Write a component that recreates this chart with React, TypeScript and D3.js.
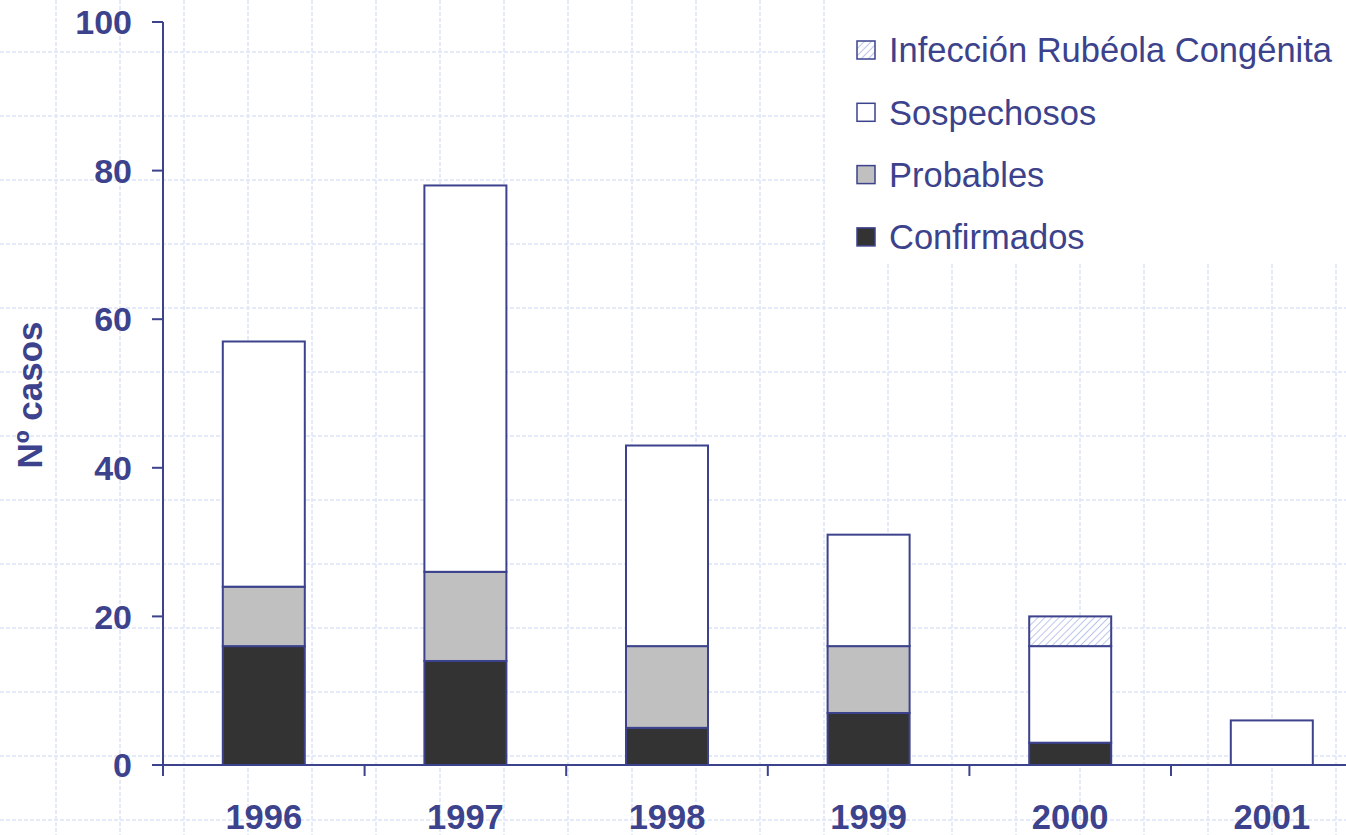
import React from "react";
import * as d3 from "d3";

const years = ["1996", "1997", "1998", "1999", "2000", "2001"];
const confirmados = [16, 14, 5, 7, 3, 0];
const probables = [8, 12, 11, 9, 0, 0];
const sospechosos = [33, 52, 27, 15, 13, 6];
const rubeola = [0, 0, 0, 0, 4, 0];
const yTicks = [0, 20, 40, 60, 80, 100];
const seriesKeys = ["confirmados", "probables", "sospechosos", "rubeola"];
const legendLabels = ["Infección Rubéola Congénita", "Sospechosos", "Probables", "Confirmados"];

const W = 1346;
const H = 835;
const INK = "#3c428c";
const FILLS: Record<string, string> = {
  confirmados: "#333333",
  probables: "#c0c0c0",
  sospechosos: "#ffffff",
  rubeola: "url(#hatch)",
};

export default function App() {
  const x0 = 163;
  const bandW = 201.6;
  const x = d3
    .scaleBand<string>()
    .domain(years)
    .range([x0, x0 + bandW * years.length])
    .paddingInner(0)
    .paddingOuter(0);
  const y = d3.scaleLinear().domain([0, 100]).range([765, 22]);

  const table = years.map((yr, i) => ({
    year: yr,
    confirmados: confirmados[i],
    probables: probables[i],
    sospechosos: sospechosos[i],
    rubeola: rubeola[i],
  }));
  const stacked = d3.stack<any>().keys(seriesKeys)(table);

  const barW = 82;
  const gridXs = d3.range(56 - 64, W + 64, 64);
  const gridYs = d3.range(52 - 64, H + 64, 64);
  const font = "'Liberation Sans', Arial, sans-serif";

  const legendFill = [FILLS.rubeola, FILLS.sospechosos, FILLS.probables, FILLS.confirmados];

  return (
    <svg
      width={W}
      height={H}
      style={{ position: "absolute", left: 0, top: 0, background: "#fff" }}
      fontFamily={font}
    >
      <defs>
        <pattern id="hatch" patternUnits="userSpaceOnUse" width="5" height="5" patternTransform="rotate(45)">
          <rect width="5" height="5" fill="#fff" />
          <line x1="0" y1="0" x2="0" y2="5" stroke="#bcc6ec" strokeWidth="2" />
        </pattern>
      </defs>
      <rect width={W} height={H} fill="#fff" />
      <g stroke="#dde3fa" strokeWidth={1.5} strokeDasharray="4 2">
        {gridXs.map((gx) => (
          <line key={"gx" + gx} x1={gx} x2={gx} y1={0} y2={H} />
        ))}
        {gridYs.map((gy) => (
          <line key={"gy" + gy} x1={0} x2={W} y1={gy} y2={gy} />
        ))}
      </g>
      {/* legend background */}
      <rect x={825} y={0} width={W - 825} height={263} fill="#fff" />

      {/* bars */}
      {stacked.map((s) => (
        <g key={s.key}>
          {s.map((d, i) => {
            const h = y(d[0]) - y(d[1]);
            if (h <= 0) return null;
            const cx = (x(years[i]) as number) + x.bandwidth() / 2;
            return (
              <rect
                key={i}
                x={cx - barW / 2}
                y={y(d[1])}
                width={barW}
                height={h}
                fill={FILLS[s.key]}
                stroke={INK}
                strokeWidth={2}
              />
            );
          })}
        </g>
      ))}

      {/* y axis */}
      <line x1={x0} x2={x0} y1={y(100)} y2={y(0) + 11} stroke={INK} strokeWidth={2} />
      {yTicks.map((t) => (
        <g key={t}>
          <line x1={x0 - 11} x2={x0} y1={y(t)} y2={y(t)} stroke={INK} strokeWidth={2} />
          <text
            x={132}
            y={y(t)}
            dy="0.36em"
            textAnchor="end"
            fontSize={34}
            fontWeight="bold"
            fill={INK}
          >
            {t}
          </text>
        </g>
      ))}
      {/* x axis */}
      <line x1={x0 - 11} x2={W} y1={y(0)} y2={y(0)} stroke={INK} strokeWidth={2} />
      {years.map((yr, i) => {
        const bx = x(yr) as number;
        return (
          <g key={yr}>
            {i > 0 && <line x1={bx} x2={bx} y1={y(0)} y2={y(0) + 11} stroke={INK} strokeWidth={2} />}
            <text
              x={bx + x.bandwidth() / 2}
              y={829}
              textAnchor="middle"
              fontSize={34.5}
              fontWeight="bold"
              fill={INK}
            >
              {yr}
            </text>
          </g>
        );
      })}

      <text
        transform={`translate(42,395) rotate(-90)`}
        textAnchor="middle"
        fontSize={35}
        fontWeight="bold"
        fill={INK}
      >
        Nº casos
      </text>

      {/* legend */}
      {legendLabels.map((lab, i) => {
        const ly = 50 + i * 62.3;
        return (
          <g key={lab}>
            <rect x={857} y={ly - 9} width={18} height={18} fill={legendFill[i]} stroke={INK} strokeWidth={1.5} />
            <text x={889} y={ly} dy="0.36em" fontSize={34.5} fill={INK}>
              {lab}
            </text>
          </g>
        );
      })}
    </svg>
  );
}
